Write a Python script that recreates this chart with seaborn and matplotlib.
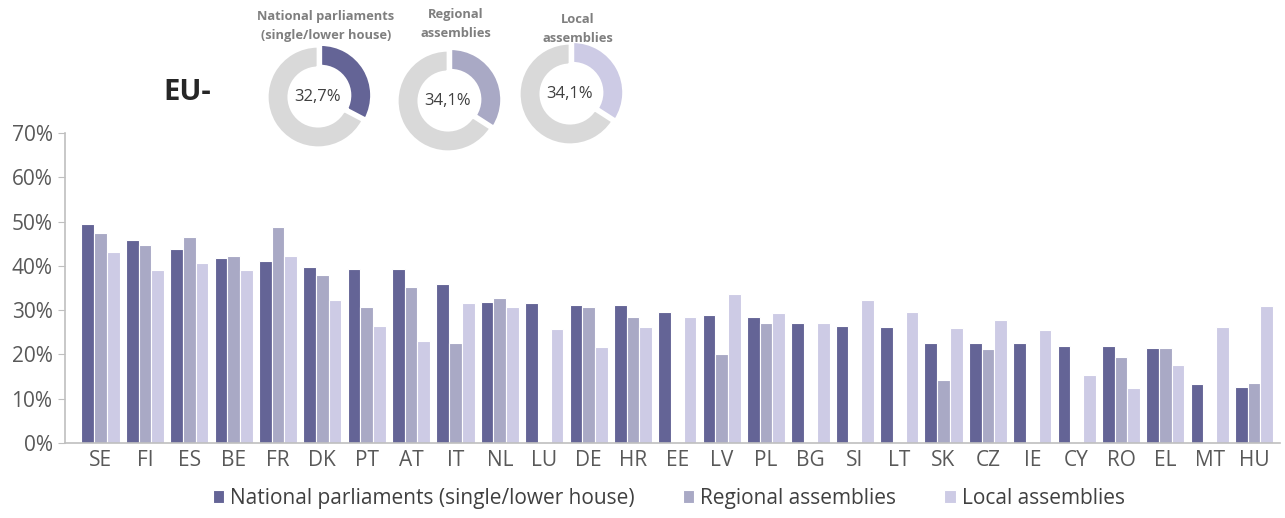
import matplotlib
matplotlib.use("Agg")
import matplotlib.pyplot as plt
import numpy as np
import pandas as pd
import seaborn as sns

countries = ["SE", "FI", "ES", "BE", "FR", "DK", "PT", "AT", "IT", "NL", "LU", "DE", "HR", "EE",
             "LV", "PL", "BG", "SI", "LT", "SK", "CZ", "IE", "CY", "RO", "EL", "MT", "HU"]
national = [49.4, 45.8, 43.8, 41.8, 41.0, 39.7, 39.4, 39.2, 35.8, 31.8, 31.6, 31.1, 31.1, 29.6,
            28.8, 28.4, 27.1, 26.4, 26.1, 22.5, 22.5, 22.5, 22.0, 22.0, 21.4, 13.3, 12.6]
regional = [47.4, 44.8, 46.6, 42.2, 48.8, 38.0, 30.6, 35.2, 22.6, 32.8, np.nan, 30.6, 28.4, np.nan,
            20.2, 27.2, np.nan, np.nan, np.nan, 14.3, 21.3, np.nan, np.nan, 19.5, 21.4, np.nan, 13.5]
local = [43.2, 39.0, 40.6, 39.0, 42.2, 32.4, 26.4, 23.0, 31.5, 30.6, 25.8, 21.7, 26.3, 28.4,
         33.6, 29.4, 27.1, 32.2, 29.6, 25.9, 27.8, 25.4, 15.3, 12.3, 17.7, 26.3, 30.9]

series = ["National parliaments (single/lower house)", "Regional assemblies", "Local assemblies"]
donut_titles = ["National parliaments\n(single/lower house)", "Regional\nassemblies", "Local\nassemblies"]
eu_values = [32.7, 34.1, 34.1]
eu_labels = ["32,7%", "34,1%", "34,1%"]
colors = ["#646496", "#A9A9C5", "#CDCBE5"]

sns.set_style("white")
plt.rcParams["font.family"] = ["Open Sans", "DejaVu Sans"]

df = pd.DataFrame({
    "country": countries * 3,
    "share": national + regional + local,
    "type": [series[0]] * len(countries) + [series[1]] * len(countries) + [series[2]] * len(countries),
})

fig = plt.figure(figsize=(12.85, 5.18), dpi=100)
ax = fig.add_axes([0.0506, 0.145, 0.9454, 0.598])

sns.barplot(data=df, x="country", y="share", hue="type", palette=colors, width=0.86,
            saturation=1, edgecolor="white", linewidth=0.8, ax=ax)

ax.set_ylim(0, 70)
ax.set_xlim(-0.8, 26.58)
ax.set_yticks(range(0, 71, 10))
ax.set_yticklabels([f"{v}%" for v in range(0, 71, 10)], fontsize=15, color="#595959")
ax.tick_params(axis="x", labelsize=15, labelcolor="#595959", length=0, pad=5)
ax.tick_params(axis="y", length=5, color="#BFBFBF", left=True, pad=4)
ax.set_xlabel("")
ax.set_ylabel("")
for side in ["top", "right"]:
    ax.spines[side].set_visible(False)
for side in ["left", "bottom"]:
    ax.spines[side].set_color("#BFBFBF")
    ax.spines[side].set_linewidth(1.2)

ax.legend(loc="upper center", bbox_to_anchor=(0.497, -0.085), ncol=3, frameon=False,
          fontsize=15, handlelength=0.55, handleheight=0.55, handletextpad=0.3,
          columnspacing=2.3, labelcolor="#404040")

# EU donuts
fig.text(163 / 1285, 1 - 92 / 518, "EU-", fontsize=21, fontweight="bold", va="center", ha="left")
centers = [(318, 97), (448, 101), (570, 94)]
title_y = [26, 24, 29]
r = 54
for (cx, cy), ty, val, lab, title, col in zip(centers, title_y, eu_values, eu_labels, donut_titles, colors):
    dax = fig.add_axes([(cx - r) / 1285, 1 - (cy + r) / 518, 2 * r / 1285, 2 * r / 518])
    dax.pie([val, 100 - val], colors=[col, "#D9D9D9"], startangle=90, counterclock=False,
            explode=[0.06, 0], radius=0.94,
            wedgeprops=dict(width=0.4, edgecolor="white", linewidth=2))
    dax.set_xlim(-1, 1)
    dax.set_ylim(-1, 1)
    dax.set_aspect("equal")
    dax.text(0, 0, lab, ha="center", va="center", fontsize=12, color="#404040")
    fig.text(cx / 1285 + 0.006, 1 - ty / 518, title, ha="center", va="center", fontsize=9.3,
             fontweight="bold", color="#7F7F7F", linespacing=1.55)

fig.savefig("out.png", dpi=100)
